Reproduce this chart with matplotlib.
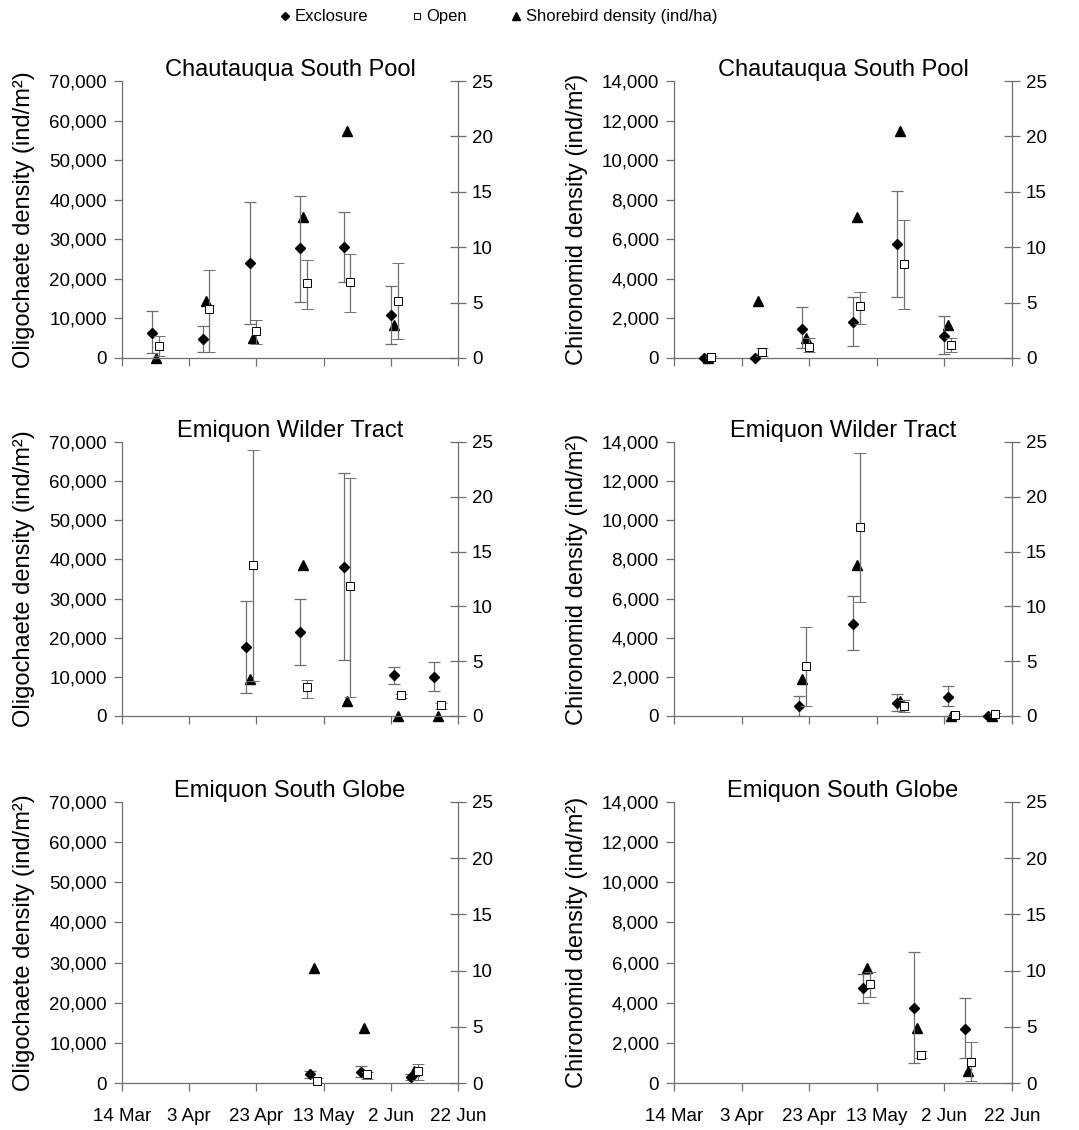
import numpy as np
import pandas as pd
import matplotlib
matplotlib.use("Agg")
import matplotlib.pyplot as plt
import matplotlib.dates as mdates
from matplotlib.lines import Line2D
from matplotlib.ticker import FuncFormatter, MultipleLocator

plt.rcParams["font.family"] = ["Liberation Sans", "DejaVu Sans"]

# sampling dates per site (shorebird counts); invertebrate cores taken alongside
chau_dates = pd.to_datetime(["2007-03-24", "2007-04-08", "2007-04-22",
                             "2007-05-07", "2007-05-20", "2007-06-03"])
wild_dates = pd.to_datetime(["2007-04-21", "2007-05-07", "2007-05-20",
                             "2007-06-04", "2007-06-16"])
glob_dates = pd.to_datetime(["2007-05-10", "2007-05-25", "2007-06-09"])

# shorebird density (ind/ha)
chau_birds = [0, 5.1, 1.8, 12.7, 20.5, 3.0]
wild_birds = [3.4, 13.8, 1.35, 0, 0]
glob_birds = [10.2, 4.9, 1.05]

# oligochaete density (ind/m2): mean, lower, upper
chau_olig_excl = [6400, 4700, 23900, 27700, 28000, 10900]
chau_olig_excl_lo = [1200, 1400, 8500, 14100, 19100, 3600]
chau_olig_excl_hi = [12000, 8000, 39400, 41000, 37000, 18300]
chau_olig_open = [3100, 12300, 6800, 18900, 19300, 14400]
chau_olig_open_lo = [600, 1500, 3600, 12300, 11600, 4900]
chau_olig_open_hi = [5600, 22300, 9700, 24800, 26300, 24000]

wild_olig_excl = [17700, 21400, 38000, 10400, 10000]
wild_olig_excl_lo = [5900, 13000, 14300, 8100, 6500]
wild_olig_excl_hi = [29500, 29800, 62200, 12600, 13800]
wild_olig_open = [38600, 7400, 33100, 5300, 2700]
wild_olig_open_lo = [9000, 4700, 4800, 4700, 1800]
wild_olig_open_hi = [68000, 9100, 60900, 5700, 3300]

glob_olig_excl = [2200, 2750, 1500]
glob_olig_excl_lo = [1250, 1500, 800]
glob_olig_excl_hi = [2900, 4300, 2200]
glob_olig_open = [400, 2250, 2900]
glob_olig_open_lo = [0, 1000, 800]
glob_olig_open_hi = [1250, 2750, 4800]

# chironomid density (ind/m2): mean, lower, upper
chau_chir_excl = [0, 0, 1470, 1810, 5740, 1130]
chau_chir_excl_lo = [0, 0, 510, 630, 3070, 200]
chau_chir_excl_hi = [0, 0, 2580, 3070, 8420, 2130]
chau_chir_open = [50, 300, 550, 2610, 4750, 680]
chau_chir_open_lo = [0, 100, 300, 1720, 2490, 300]
chau_chir_open_hi = [100, 500, 990, 3330, 6970, 990]

wild_chir_excl = [500, 4710, 660, 960, 0]
wild_chir_excl_lo = [0, 3350, 250, 500, 0]
wild_chir_excl_hi = [1000, 6140, 1130, 1540, 0]
wild_chir_open = [2570, 9650, 500, 50, 80]
wild_chir_open_lo = [500, 5850, 220, 0, 0]
wild_chir_open_hi = [4560, 13430, 800, 100, 150]

glob_chir_excl = [4710, 3750, 2680]
glob_chir_excl_lo = [4000, 990, 1240]
glob_chir_excl_hi = [5450, 6530, 4250]
glob_chir_open = [4930, 1400, 1070]
glob_chir_open_lo = [4300, 1240, 100]
glob_chir_open_hi = [5540, 1570, 2030]

titles = ["Chautauqua South Pool", "Emiquon Wilder Tract", "Emiquon South Globe"]
tick_dates = pd.date_range("2007-03-14", "2007-06-22", freq="20D")

grey = "#6e6e6e"
W, H = 1079, 1130
fig = plt.figure(figsize=(W / 100, H / 100), dpi=100)

# axes rectangles in pixels: (left, right) and (top, bottom)
col_px = [(122, 458), (674, 1012)]
row_px = [(81, 358), (442, 716), (802, 1083)]


def errs(mean, lo, hi):
    mean = np.array(mean, float)
    return [mean - np.array(lo, float), np.array(hi, float) - mean]


def panel(col, row, dates, birds, excl, excl_lo, excl_hi, opn, opn_lo, opn_hi,
          ymax, ystep, ylabel):
    l, r = col_px[col]
    t, b = row_px[row]
    ax = fig.add_axes([l / W, 1 - b / H, (r - l) / W, (b - t) / H])
    ax2 = ax.twinx()
    ax.set_zorder(ax2.get_zorder() + 1)
    ax.patch.set_visible(False)

    d_ex = dates - pd.Timedelta(days=1)
    d_op = dates + pd.Timedelta(days=1)
    ax.errorbar(d_ex, excl, yerr=errs(excl, excl_lo, excl_hi), fmt="D",
                ms=5, color="black", ecolor=grey, elinewidth=0.9, capsize=4.5,
                capthick=0.9, clip_on=False, zorder=3)
    ax.errorbar(d_op, opn, yerr=errs(opn, opn_lo, opn_hi), fmt="s", ms=6,
                mfc="white", mec="black", mew=0.7, ecolor=grey, elinewidth=0.9,
                capsize=4.5, capthick=0.9, clip_on=False, zorder=4)
    ax2.plot(dates, birds, "^", ms=7, color="black", clip_on=False, zorder=5)

    ax.set_xlim(pd.Timestamp("2007-03-14"), pd.Timestamp("2007-06-22"))
    ax.set_ylim(0, ymax)
    ax.yaxis.set_major_locator(MultipleLocator(ystep))
    ax.yaxis.set_major_formatter(FuncFormatter(lambda v, p: f"{v:,.0f}"))
    ax2.set_ylim(0, 25)
    ax2.yaxis.set_major_locator(MultipleLocator(5))

    ax.set_xticks(tick_dates)
    if row == 2:
        ax.xaxis.set_major_formatter(mdates.DateFormatter("%-d %b"))
    else:
        ax.set_xticklabels([])

    for a in (ax, ax2):
        a.spines["top"].set_visible(False)
        for s in ("left", "right", "bottom"):
            a.spines[s].set_color(grey)
            a.spines[s].set_linewidth(0.9)
    ax.spines["right"].set_visible(False)
    ax2.spines["left"].set_visible(False)
    ax2.spines["bottom"].set_visible(False)

    ax.tick_params(axis="both", colors=grey, labelcolor="black",
                   labelsize=13.5, length=6, width=0.9, pad=5)
    ax.tick_params(axis="x", pad=12)
    ax2.tick_params(axis="y", direction="inout", colors=grey, labelcolor="black",
                    labelsize=13.5, length=12, width=0.9, pad=4)

    ax.set_title(titles[row], fontsize=17, pad=1)
    ax.set_ylabel(ylabel, fontsize=17)
    ax.yaxis.set_label_coords(-0.258 if col == 0 else -0.254, 0.5)


olig_label = "Oligochaete density (ind/m²)"
chir_label = "Chironomid density (ind/m²)"

panel(0, 0, chau_dates, chau_birds, chau_olig_excl, chau_olig_excl_lo,
      chau_olig_excl_hi, chau_olig_open, chau_olig_open_lo, chau_olig_open_hi,
      70000, 10000, olig_label)
panel(1, 0, chau_dates, chau_birds, chau_chir_excl, chau_chir_excl_lo,
      chau_chir_excl_hi, chau_chir_open, chau_chir_open_lo, chau_chir_open_hi,
      14000, 2000, chir_label)
panel(0, 1, wild_dates, wild_birds, wild_olig_excl, wild_olig_excl_lo,
      wild_olig_excl_hi, wild_olig_open, wild_olig_open_lo, wild_olig_open_hi,
      70000, 10000, olig_label)
panel(1, 1, wild_dates, wild_birds, wild_chir_excl, wild_chir_excl_lo,
      wild_chir_excl_hi, wild_chir_open, wild_chir_open_lo, wild_chir_open_hi,
      14000, 2000, chir_label)
panel(0, 2, glob_dates, glob_birds, glob_olig_excl, glob_olig_excl_lo,
      glob_olig_excl_hi, glob_olig_open, glob_olig_open_lo, glob_olig_open_hi,
      70000, 10000, olig_label)
panel(1, 2, glob_dates, glob_birds, glob_chir_excl, glob_chir_excl_lo,
      glob_chir_excl_hi, glob_chir_open, glob_chir_open_lo, glob_chir_open_hi,
      14000, 2000, chir_label)

handles = [
    Line2D([], [], ls="none", marker="D", ms=4, color="black"),
    Line2D([], [], ls="none", marker="s", ms=5, mfc="white", mec="black", mew=0.7),
    Line2D([], [], ls="none", marker="^", ms=6, color="black"),
]
fig.legend(handles, ["Exclosure", "Open", "Shorebird density (ind/ha)"],
           loc="upper center", bbox_to_anchor=(0.462, 1.005), ncol=3,
           frameon=False, fontsize=12, handlelength=0.6, handletextpad=0.3,
           columnspacing=2.6)

fig.savefig("out.png", dpi=100, facecolor="white")
